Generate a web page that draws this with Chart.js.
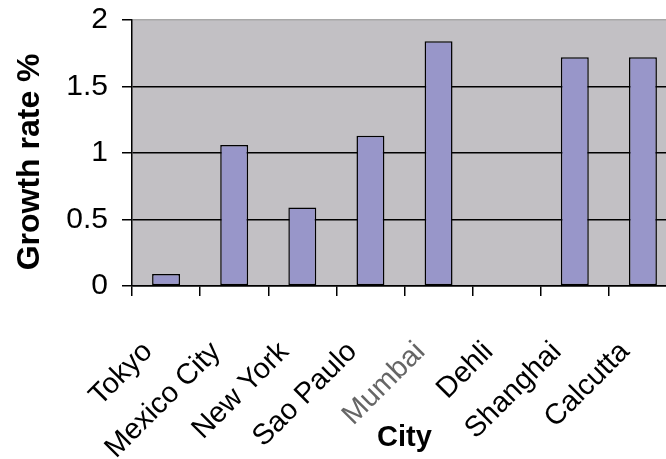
<!DOCTYPE html>
<html lang="en">
<head>
    <meta charset="UTF-8">
    <title>Growth rate by city</title>
    <script src="https://cdn.jsdelivr.net/npm/chart.js"></script>
    <style>
        html, body {
            margin: 0;
            padding: 0;
            background: #ffffff;
            overflow: hidden;
        }
        #wrap {
            width: 680px;
            height: 459px;
        }
    </style>
</head>
<body>
    <div id="wrap">
        <canvas id="growthChart" width="680" height="459"></canvas>
    </div>

    <script>
        const cities = ['Tokyo', 'Mexico City', 'New York', 'Sao Paulo', 'Mumbai', 'Dehli', 'Shanghai', 'Calcutta'];
        const growthRates = [0.09, 1.06, 0.59, 1.13, 1.84, 0, 1.72, 1.72];
        const yTicks = [0, 0.5, 1, 1.5, 2];

        // grey plot background like the old spreadsheet charts
        const plotBackground = {
            id: 'plotBackground',
            beforeDraw(chart) {
                const { ctx, chartArea } = chart;
                ctx.save();
                ctx.fillStyle = '#c2c0c4';
                ctx.fillRect(chartArea.left, chartArea.top, chartArea.right - chartArea.left, chartArea.bottom - chartArea.top);
                ctx.restore();
            }
        };

        const ctx = document.getElementById('growthChart').getContext('2d');
        new Chart(ctx, {
            type: 'bar',
            data: {
                labels: cities,
                datasets: [{
                    label: 'Growth rate %',
                    data: growthRates,
                    backgroundColor: '#9896c9',
                    borderColor: '#000000',
                    borderWidth: 1.5,
                    borderSkipped: false,
                    categoryPercentage: 1,
                    barPercentage: 0.41
                }]
            },
            options: {
                responsive: false,
                animation: false,
                layout: { padding: { top: 20, right: 3, left: 0, bottom: 0 } },
                plugins: {
                    legend: { display: false },
                    tooltip: { enabled: false }
                },
                scales: {
                    x: {
                        grid: {
                            drawOnChartArea: false,
                            drawTicks: true,
                            tickLength: 10,
                            color: '#000000',
                            lineWidth: 1.5
                        },
                        border: { color: '#000000', width: 1.5 },
                        ticks: {
                            minRotation: 45,
                            maxRotation: 45,
                            padding: 39,
                            labelOffset: -18,
                            font: { family: 'Liberation Sans', size: 29 },
                            color: (c) => cities[c.index] === 'Mumbai' ? '#666666' : '#000000'
                        },
                        title: {
                            display: true,
                            text: 'City',
                            color: '#000000',
                            padding: { top: 0, bottom: 4 },
                            font: { family: 'Liberation Sans', size: 29, weight: 'bold' }
                        },
                        afterFit(scale) {
                            scale.height = 173;
                            scale.paddingLeft = 0;
                            scale.paddingRight = 0;
                        }
                    },
                    y: {
                        min: 0,
                        max: 2,
                        afterBuildTicks(scale) {
                            scale.ticks = yTicks.map(v => ({ value: v }));
                        },
                        grid: {
                            color: (c) => c.tick && c.tick.value === 2 ? '#a8a8a8' : '#000000',
                            tickColor: '#000000',
                            lineWidth: 1.5,
                            tickLength: 10
                        },
                        border: { color: '#000000', width: 1.5 },
                        ticks: {
                            padding: 14,
                            font: { family: 'Liberation Sans', size: 30 },
                            color: '#000000',
                            callback: (v) => String(v)
                        },
                        title: {
                            display: true,
                            text: 'Growth rate %\u00a0\u00a0',
                            color: '#000000',
                            padding: { top: 11, bottom: 0 },
                            font: { family: 'Liberation Sans', size: 32, weight: 'bold' }
                        },
                        afterFit(scale) {
                            scale.width = 132;
                            scale.paddingTop = 0;
                            scale.paddingBottom = 0;
                        }
                    }
                }
            },
            plugins: [plotBackground]
        });
    </script>
</body>
</html>
